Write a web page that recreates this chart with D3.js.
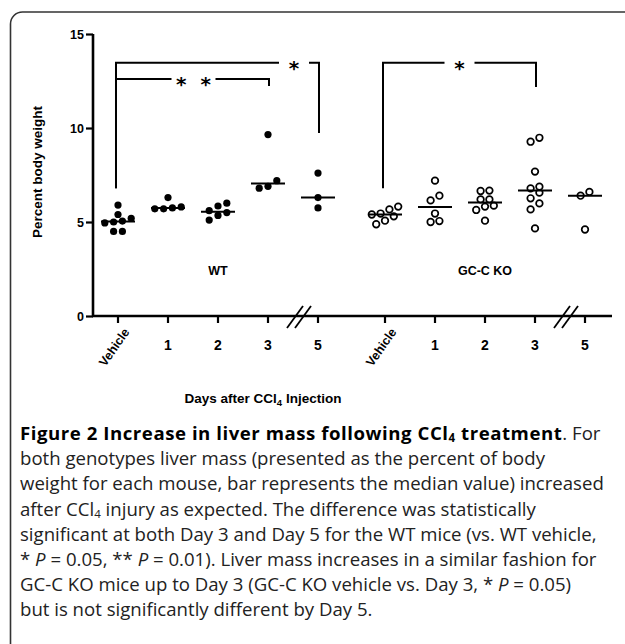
<!DOCTYPE html>
<html>
<head>
<meta charset="utf-8">
<script src="https://cdn.jsdelivr.net/npm/d3@7"></script>
<style>
  html, body { margin: 0; padding: 0; background: #fff; }
</style>
</head>
<body>
<div id="container"></div>
<script>
const groups = ['WT', 'GC-C KO'];
const days = ['Vehicle', '1', '2', '3', '5'];
// percent body weight per mouse, one list per day
const wtValues = [
    [5.9, 5.4, 5.0, 4.95, 5.2, 5.05, 4.5, 4.5],
    [6.3, 5.7, 5.75, 5.7, 5.8],
    [6.0, 5.85, 5.6, 5.5, 5.35, 5.1],
    [9.65, 7.2, 6.8, 6.9],
    [7.6, 6.3, 5.75]
];
const koValues = [
    [5.82, 5.67, 5.45, 5.3, 5.4, 5.07, 4.88],
    [7.2, 6.4, 6.15, 5.45, 5.0, 5.05],
    [6.67, 6.65, 6.2, 6.2, 5.87, 5.82, 5.64, 5.07],
    [9.27, 9.48, 7.68, 6.79, 6.88, 6.56, 6.26, 5.99, 5.67, 4.66],
    [6.6, 6.4, 4.6]
];
const yTicks = [0, 5, 10, 15];
// significance brackets (heights in percent body weight)
const brackets = [
    { group: 'WT', from: 'Vehicle', to: '3', label: '*  *', top: 12.6, end: 12.23 },
    { group: 'WT', from: 'Vehicle', to: '5', label: '*', top: 13.47, end: 9.73 },
    { group: 'GC-C KO', from: 'Vehicle', to: '3', label: '*', top: 13.47, end: 12.18 }
];
const bracketFoot = 6.8;

const W = 625, H = 644;
const svg = d3.select('#container')
    .append('svg')
    .attr('width', W)
    .attr('height', H)
    .attr('viewBox', `0 0 ${W} ${H}`);

const font = 'Liberation Sans, Arial, sans-serif';

// frame with rounded corner
svg.append('rect')
    .attr('x', 10.5)
    .attr('y', 12)
    .attr('width', 700)
    .attr('height', 700)
    .attr('rx', 12)
    .attr('fill', 'none')
    .attr('stroke', '#333')
    .attr('stroke-width', 1.6);

const pLeft = 93, pRight = 612, pTop = 34, pBottom = 316;

const y = d3.scaleLinear().domain([0, 15]).range([pBottom, pTop]);
const xGroup = d3.scaleBand().domain(groups).range([pLeft, 610]).paddingInner(0.0637).paddingOuter(0);
const xDay = d3.scalePoint().domain(days).range([0, xGroup.bandwidth()]).padding(0.5);
const xPos = (gr, d) => xGroup(gr) + xDay(d);

const g = svg.append('g').attr('font-family', font).attr('font-weight', 'bold');

// y axis
const yAxis = g.append('g')
    .attr('transform', `translate(${pLeft},0)`)
    .call(d3.axisLeft(y).tickValues(yTicks).tickSize(7).tickPadding(2));
yAxis.select('.domain').attr('stroke-width', 2.6).attr('d', `M0,${pTop}V${pBottom + 1}`);
yAxis.selectAll('.tick line').attr('stroke-width', 2.2);
yAxis.selectAll('.tick text').attr('font-size', 12.5).attr('font-weight', 'bold').attr('font-family', font).attr('fill', '#000');

// x axis
g.append('line')
    .attr('x1', pLeft - 1).attr('x2', pRight)
    .attr('y1', pBottom).attr('y2', pBottom)
    .attr('stroke', '#000').attr('stroke-width', 2.6);

const ticks = [];
groups.forEach(gr => days.forEach(d => ticks.push({ group: gr, day: d })));
g.append('g').selectAll('line.tk')
    .data(ticks)
    .enter()
    .append('line')
    .attr('x1', d => xPos(d.group, d.day))
    .attr('x2', d => xPos(d.group, d.day))
    .attr('y1', pBottom)
    .attr('y2', pBottom + 7)
    .attr('stroke', '#000')
    .attr('stroke-width', 2.2);

g.append('g').selectAll('text.tl')
    .data(ticks)
    .enter()
    .append('text')
    .attr('font-size', d => d.day === 'Vehicle' ? 12.5 : 14)
    .attr('text-anchor', d => d.day === 'Vehicle' ? 'end' : 'middle')
    .attr('transform', d => d.day === 'Vehicle'
        ? `translate(${xPos(d.group, d.day) + 12},${pBottom + 16}) rotate(-55)`
        : `translate(${xPos(d.group, d.day)},${pBottom + 34})`)
    .text(d => d.day);

// axis breaks between day 3 and day 5
groups.forEach(gr => {
    const bx = (xPos(gr, '3') + xPos(gr, '5')) / 2 + 6;
    [-4, 4].forEach(o => {
        g.append('line')
            .attr('x1', bx + o - 8).attr('y1', pBottom + 12)
            .attr('x2', bx + o + 8).attr('y2', pBottom - 10)
            .attr('stroke', '#000').attr('stroke-width', 1.8);
    });
});

// axis titles
g.append('text')
    .attr('transform', `translate(42,172) rotate(-90)`)
    .attr('text-anchor', 'middle')
    .attr('font-size', 13.5)
    .text('Percent body weight');

const xt = g.append('text')
    .attr('x', 263)
    .attr('y', 403)
    .attr('text-anchor', 'middle')
    .attr('font-size', 13.5);
xt.append('tspan').text('Days after CCl');
xt.append('tspan').attr('font-size', 9.5).attr('dy', 3).text('4');
xt.append('tspan').attr('dy', -3).text(' Injection');

// group labels
groups.forEach(gr => {
    g.append('text')
        .attr('x', xPos(gr, '2'))
        .attr('y', 275)
        .attr('text-anchor', 'middle')
        .attr('font-size', 12.5)
        .text(gr);
});

// dots: spread points of nearly equal value side by side
const r = 3.6, gap = 8.8;
function spread(values) {
    const s = values.map(v => ({ v, py: y(v) })).sort((a, b) => a.v - b.v);
    const rows = [];
    s.forEach(p => {
        const row = rows[rows.length - 1];
        if (row && row[0].py - p.py < gap - 0.5) row.push(p);
        else rows.push([p]);
    });
    rows.forEach(row => row.forEach((p, i) => { p.dx = (i - (row.length - 1) / 2) * gap; }));
    return s;
}

const series = [
    { group: 'WT', values: wtValues, fill: '#000' },
    { group: 'GC-C KO', values: koValues, fill: '#fff' }
];

series.forEach(sr => {
    sr.values.forEach((vals, i) => {
        const cx = xPos(sr.group, days[i]);
        const pts = spread(vals);
        g.append('g').selectAll('circle')
            .data(pts)
            .enter()
            .append('circle')
            .attr('cx', d => cx + d.dx)
            .attr('cy', d => d.py)
            .attr('r', sr.fill === '#000' ? r : r - 0.3)
            .attr('fill', sr.fill)
            .attr('stroke', '#000')
            .attr('stroke-width', sr.fill === '#000' ? 0 : 1.7);
        const med = d3.median(vals);
        g.append('line')
            .attr('x1', cx - 17).attr('x2', cx + 17)
            .attr('y1', y(med)).attr('y2', y(med))
            .attr('stroke', '#000').attr('stroke-width', 2);
    });
});

// significance brackets
const bk = g.append('g').attr('stroke', '#000').attr('stroke-width', 2).attr('fill', 'none');
const starSize = 20;
brackets.forEach(b => {
    const x1 = xPos(b.group, b.from) - 2, x2 = xPos(b.group, b.to) + 1;
    const ty = y(b.top);
    const two = b.label.length > 1;
    const tx = two ? (x1 + x2) / 2 + 1 : (b.group === 'WT' ? x2 - 25 : (x1 + x2) / 2);
    const hw = two ? 22 : 15;
    bk.append('path').attr('d', `M${x1},${y(bracketFoot)}V${ty}H${tx - hw}`);
    bk.append('path').attr('d', `M${tx + hw},${ty}H${x2}V${y(b.end)}`);
    g.append('text')
        .attr('x', tx)
        .attr('y', ty + starSize * 0.6)
        .attr('text-anchor', 'middle')
        .attr('font-size', starSize)
        .attr('font-family', 'DejaVu Sans, sans-serif')
        .attr('xml:space', 'preserve')
        .style('white-space', 'pre')
        .text(b.label);
});

// caption
const capLines = [
    [['Figure 2 Increase in liver mass following CCl', 'b'], ['4', 'bs'], [' treatment', 'b'], ['. For', '']],
    [['both genotypes liver mass (presented as the percent of body', '']],
    [['weight for each mouse, bar represents the median value) increased', '']],
    [['after CCl', ''], ['4', 's'], [' injury as expected. The difference was statistically', '']],
    [['significant at both Day 3 and Day 5 for the WT mice (vs. WT vehicle,', '']],
    [['* ', ''], ['P', 'i'], [' = 0.05, ** ', ''], ['P', 'i'], [' = 0.01). Liver mass increases in a similar fashion for', '']],
    [['GC-C KO mice up to Day 3 (GC-C KO vehicle vs. Day 3, * ', ''], ['P', 'i'], [' = 0.05)', '']],
    [['but is not significantly different by Day 5.', '']]
];
const cap = svg.append('g').attr('font-family', 'Open Sans, sans-serif').attr('fill', '#222');
capLines.forEach((line, li) => {
    const t = cap.append('text')
        .attr('x', 20)
        .attr('y', 440 + li * 25.2)
        .attr('font-size', 18.6);
    let prevSub = false;
    line.forEach(([s, st]) => {
        const ts = t.append('tspan').text(s);
        if (st.includes('b')) ts.attr('font-weight', 'bold').attr('fill', '#000').attr('letter-spacing', 0.55);
        if (st.includes('i')) ts.attr('font-style', 'italic');
        if (st.includes('s')) ts.attr('font-size', 11.5).attr('dy', 2);
        else if (prevSub) ts.attr('dy', -2);
        prevSub = st.includes('s');
    });
});
</script>
</body>
</html>
